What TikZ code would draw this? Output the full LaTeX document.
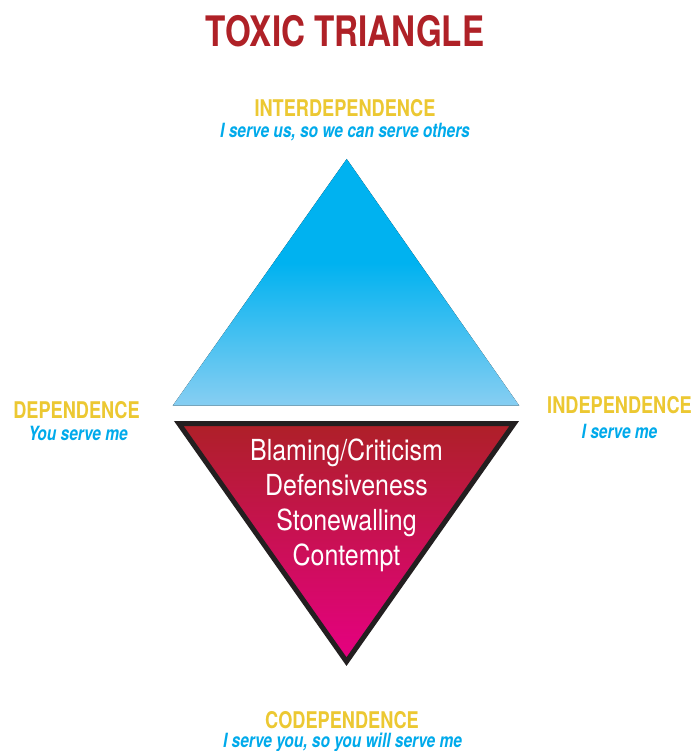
\documentclass[tikz,border=0pt]{standalone}
\usepackage{fontspec}
\setmainfont{TeX Gyre Heros}[FakeStretch=0.79]
\newfontfamily\traitfont{TeX Gyre Heros}[FakeStretch=0.86]
\usetikzlibrary{positioning}

\definecolor{titlered}{RGB}{175,33,39}
\definecolor{levelyellow}{RGB}{236,200,50}
\definecolor{mottoblue}{RGB}{0,170,235}
\definecolor{topblue}{RGB}{0,178,240}
\definecolor{paleblue}{RGB}{135,206,242}
\definecolor{toxicred}{RGB}{174,32,40}
\definecolor{toxicpink}{RGB}{230,0,130}
\definecolor{edgegray}{RGB}{35,31,32}

% upper triangle: solid blue at the top, fading out towards the base
\pgfdeclareverticalshading{skyfade}{100bp}{color(0bp)=(paleblue); color(25bp)=(paleblue); color(54bp)=(topblue); color(100bp)=(topblue)}

\tikzset{
  title/.style={font=\bfseries\fontsize{42}{42}\selectfont, text=titlered, anchor=base, inner sep=0pt},
  level/.style={font=\bfseries\fontsize{23}{23}\selectfont, text=levelyellow, anchor=base, inner sep=0pt},
  motto/.style={font=\bfseries\itshape\fontsize{19.6}{19.6}\selectfont, text=mottoblue, anchor=base, inner sep=0pt},
  trait/.style={font=\traitfont\fontsize{29}{29}\selectfont, text=white, anchor=base, inner sep=0pt}
}

\begin{document}
\begin{tikzpicture}[x=1pt,y=-1pt]
	\useasboundingbox[fill=white] (0,0) rectangle (694,751);

	\node[title] (title) at (345,47) {TOXIC TRIANGLE};

	\fill[shading=skyfade] (346.7,159) -- (519.3,405.7) -- (172.7,405.7) -- cycle;
	\draw[edgegray, line width=5pt, top color=toxicred, bottom color=toxicpink] (178.8,423.5) -- (514.2,423.5) -- (346.5,661.6) -- cycle;

	\foreach \txt [count=\i] in {Blaming/Criticism, Defensiveness, Stonewalling, Contempt}
		\node[trait] (trait\i) at (346.5,425+35*\i) {\txt};

	\node[level] (inter) at (345,117) {INTERDEPENDENCE};
	\node[motto] (interMotto) at (345,138) {I serve us, so we can serve others};
	\node[level] (dep) at (76.5,418) {DEPENDENCE};
	\node[motto] (depMotto) at (78,440) {You serve me};
	\node[level] (indep) at (619.5,413) {INDEPENDENCE};
	\node[motto] (indepMotto) at (619.5,438) {I serve me};
	\node[level] (codep) at (342,728) {CODEPENDENCE};
	\node[motto] (codepMotto) at (342.5,747.5) {I serve you, so you will serve me};
\end{tikzpicture}
\end{document}
